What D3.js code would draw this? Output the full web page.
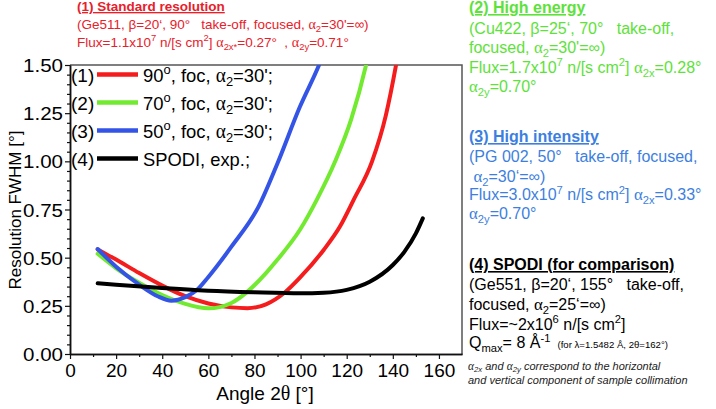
<!DOCTYPE html>
<html><head><meta charset="utf-8">
<script src="https://cdn.jsdelivr.net/npm/d3@7"></script>
<style>
body{margin:0;background:#fff}
svg{display:block}
text{font-family:"Liberation Sans",Arial,Helvetica,sans-serif;white-space:pre}
</style>
</head><body>
<svg id="chart" width="716" height="409"></svg>
<script>
// ---------------- data ----------------
const xTicks = [0, 20, 40, 60, 80, 100, 120, 140, 160];
const yTicks = [0, 0.25, 0.5, 0.75, 1.0, 1.25, 1.5];
const legendNumbers = ["(1)", "(2)", "(3)", "(4)"];
const legendTexts = ["90^{o}, foc, α_{2}=30';", "70^{o}, foc, α_{2}=30';", "50^{o}, foc, α_{2}=30';", "SPODI, exp.;"];
const seriesColors = ["#f41c1c", "#72ea30", "#3454e6", "#000000"];

const angle90 = [12, 20, 30, 40, 50, 60, 70, 77, 85, 93, 100, 110, 117, 123, 131, 137, 141.4, 144];
const fwhm90  = [0.543, 0.49, 0.42, 0.355, 0.30, 0.262, 0.242, 0.238, 0.258, 0.318, 0.40, 0.54, 0.66, 0.80, 1.0, 1.24, 1.5, 1.68];

const angle70 = [12, 20, 30, 40, 50, 60, 70, 76.6, 85, 90, 100, 107, 115, 122, 128.4, 131];
const fwhm70  = [0.52, 0.445, 0.37, 0.306, 0.26, 0.237, 0.265, 0.32, 0.42, 0.49, 0.65, 0.80, 1.0, 1.22, 1.5, 1.64];

const angle50 = [12, 20, 30, 38, 44, 50, 55, 60, 70, 82, 90, 99.7, 108, 110];
const fwhm50  = [0.545, 0.453, 0.36, 0.30, 0.277, 0.295, 0.332, 0.40, 0.557, 0.77, 0.99, 1.283, 1.5, 1.56];

const angleSpodi = [12, 20, 40, 60, 80, 100, 110, 120, 130, 140, 145, 150, 153];
const fwhmSpodi  = [0.367, 0.36, 0.342, 0.328, 0.32, 0.315, 0.318, 0.333, 0.375, 0.462, 0.53, 0.626, 0.704];

// ---------------- setup ----------------
const svg = d3.select("#chart");
const x = d3.scaleLinear().domain([0, 170]).range([70, 462]);
const y = d3.scaleLinear().domain([0, 1.5]).range([354, 65]);
const SERIF = "'Liberation Serif','DejaVu Serif',serif";

function rich(parent, str, xPos, yPos, fs, color, opts = {}) {
  const t = parent.append("text").attr("x", xPos).attr("y", yPos)
    .style("font-size", fs + "px").attr("fill", color);
  if (opts.bold) t.style("font-weight", "bold");
  if (opts.underline) t.style("text-decoration", "underline");
  if (opts.italic) t.style("font-style", "italic");
  if (opts.anchor) t.attr("text-anchor", opts.anchor);
  if (opts.length) t.attr("textLength", opts.length).attr("lengthAdjust", "spacingAndGlyphs");
  const subOff = opts.subOff !== undefined ? opts.subOff : 0.25;
  const parts = str.split(/(_\{[^}]*\}|\^\{[^}]*\}|%\{[^}]*\}|[αθ])/).filter(s => s.length);
  let cur = 0;
  parts.forEach(p => {
    let txt = p, off = 0, size = fs, fam = null;
    if (p.startsWith("_{")) { txt = p.slice(2, -1); off = subOff * fs; size = 0.7 * fs; }
    else if (p.startsWith("^{")) { txt = p.slice(2, -1); off = -0.38 * fs; size = 0.7 * fs; }
    else if (p.startsWith("%{")) { txt = p.slice(2, -1); size = 0.6 * fs; }
    else if (p === "α" || p === "θ") { fam = SERIF; size = fs * 1.05; }
    const ts = t.append("tspan").attr("dy", off - cur).style("font-size", size + "px").text(txt);
    if (fam) ts.style("font-family", fam);
    cur = off;
  });
  return t;
}

// clip
svg.append("defs").append("clipPath").attr("id", "plotclip")
  .append("rect").attr("x", 70).attr("y", 65).attr("width", 392).attr("height", 289);

// frame (top/right)
svg.append("path").attr("d", `M${x(0)},${y(1.5)}H${x(170)}V${y(0)}`)
  .attr("fill", "none").attr("stroke", "#555").attr("stroke-width", 1.5);

// axes
const xAxis = svg.append("g").attr("transform", `translate(0,${y(0)})`)
  .call(d3.axisBottom(x).tickValues(xTicks).tickSize(5).tickSizeOuter(0).tickFormat(d3.format("d")));
const xMinor = svg.append("g").attr("transform", `translate(0,${y(0)})`)
  .call(d3.axisBottom(x).tickValues(d3.range(10, 170, 20)).tickSize(3).tickSizeOuter(0).tickFormat(""));
const yAxis = svg.append("g").attr("transform", `translate(${x(0)},0)`)
  .call(d3.axisLeft(y).tickValues(yTicks).tickSize(5).tickSizeOuter(0).tickFormat(d3.format(".2f")));
const yMinor = svg.append("g").attr("transform", `translate(${x(0)},0)`)
  .call(d3.axisLeft(y).tickValues(d3.range(0, 1.5001, 0.05).filter(v => Math.abs(v / 0.25 - Math.round(v / 0.25)) > 1e-6)).tickSize(3).tickSizeOuter(0).tickFormat(""));
[xAxis, xMinor, yAxis, yMinor].forEach(g => {
  g.selectAll("path").attr("stroke", "#111").attr("stroke-width", 1.5);
  g.selectAll("line").attr("stroke", "#111").attr("stroke-width", 1.2);
  g.selectAll("text").style("font-size", "19px").attr("fill", "#000")
    .style("font-family", "'Liberation Sans',Arial,sans-serif");
});
xAxis.selectAll("text").attr("dy", "0.95em").attr("y", 5);
yAxis.selectAll("text").attr("x", -7).attr("dy", "0.35em")
  .attr("textLength", 40).attr("lengthAdjust", "spacingAndGlyphs");

// axis titles
rich(svg, "Angle 2θ [°]", 265, 400, 19, "#000", { anchor: "middle" });
rich(svg, "Resolution FWHM [°]", 0, 0, 17, "#000", { anchor: "middle" })
  .attr("transform", "translate(21,210) rotate(-90)");

// curves
const line = d3.line().x(d => x(d[0])).y(d => y(d[1])).curve(d3.curveMonotoneX);
const series = [
  d3.zip(angle90, fwhm90),
  d3.zip(angle70, fwhm70),
  d3.zip(angle50, fwhm50),
  d3.zip(angleSpodi, fwhmSpodi)
];
const curves = svg.append("g").attr("clip-path", "url(#plotclip)");
series.forEach((s, i) => {
  curves.append("path").datum(s).attr("d", line)
    .attr("fill", "none").attr("stroke", seriesColors[i]).attr("stroke-width", 4)
    .attr("stroke-linecap", "round");
});

// legend
const legend = svg.append("g");
legendNumbers.forEach((n, i) => {
  const cy = 74.5 + i * 28;
  legend.append("text").attr("x", 71).attr("y", cy + 7).style("font-size", "19px").text(n);
  legend.append("line").attr("x1", 97).attr("x2", 138).attr("y1", cy).attr("y2", cy)
    .attr("stroke", seriesColors[i]).attr("stroke-width", 4.5);
  rich(legend, legendTexts[i], 143, cy + 7, 19, "#000", { length: i < 3 ? 130 : 107 });
});

// annotations
const ann = svg.append("g");
const RED = "#e8202a", GREEN = "#5de23a", BLUE = "#3d7fe0";
rich(ann, "(1) Standard resolution", 77, 11, 13.5, RED, { bold: true, underline: true });
rich(ann, "(Ge511, β=20‘, 90°   take-off, focused, α_{2}=30'=∞)", 77, 28.5, 13.5, RED);
rich(ann, "Flux=1.1x10^{7} n/[s cm^{2}] α_{2x*}=0.27°  , α_{2y}=0.71°", 77, 46.5, 13.5, RED);

rich(ann, "(2) High energy", 469, 13, 16, GREEN, { bold: true, underline: true });
rich(ann, "(Cu422, β=25‘, 70°   take-off,", 469, 33.5, 16, GREEN);
rich(ann, "focused, α_{2}=30'=∞)", 469, 53, 16, GREEN);
rich(ann, "Flux=1.7x10^{7} n/[s cm^{2}] α_{2x}=0.28°", 469, 72.5, 16, GREEN);
rich(ann, "α_{2y}=0.70°", 469, 92, 16, GREEN);

rich(ann, "(3) High intensity", 469, 142, 16, BLUE, { bold: true, underline: true });
rich(ann, "(PG 002, 50°   take-off, focused,", 469, 161.5, 16, BLUE);
rich(ann, " α_{2}=30‘=∞)", 469, 181.5, 16, BLUE);
rich(ann, "Flux=3.0x10^{7} n/[s cm^{2}] α_{2x}=0.33°", 469, 200, 16, BLUE);
rich(ann, "α_{2y}=0.70°", 469, 219, 16, BLUE);

rich(ann, "(4) SPODI (for comparison)", 469, 270, 16, "#000", { bold: true, underline: true });
rich(ann, "(Ge551, β=20‘, 155°   take-off,", 469, 290, 16, "#000");
rich(ann, "focused, α_{2}=25‘=∞)", 469, 310, 16, "#000");
rich(ann, "Flux=~2x10^{6} n/[s cm^{2}]", 469, 329.5, 16, "#000");
rich(ann, "Q_{max}= 8 Å^{-1} %{ (for λ=1.5482 Å, 2θ=162°)}", 469, 348, 16, "#000");

rich(ann, "α_{2x} and α_{2y} correspond to the horizontal", 468, 370, 11, "#222", { italic: true, subOff: 0.15 });
rich(ann, "and vertical component of sample collimation", 468, 384, 11, "#222", { italic: true });
</script>
</body></html>
